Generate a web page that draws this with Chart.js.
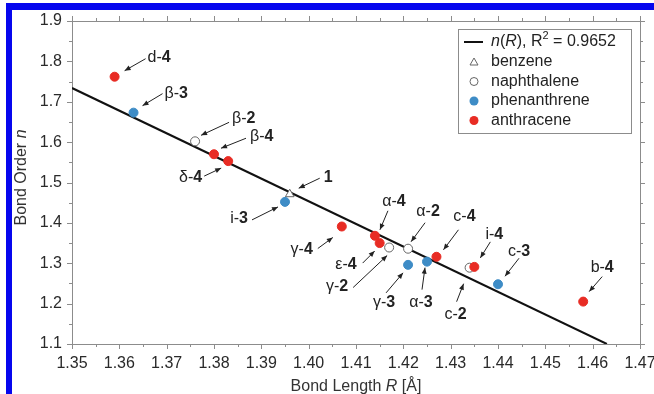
<!DOCTYPE html>
<html>
<head>
<meta charset="utf-8">
<script src="https://cdn.jsdelivr.net/npm/chart.js@4.4.0/dist/chart.umd.min.js"></script>
<style>
  html, body { margin: 0; padding: 0; background: #fff; }
</style>
</head>
<body>
<canvas id="myChart" width="654" height="394"></canvas>
<script>
// fitted line n(R), end points
const fitR = [1.35, 1.463];
const fitN = [1.734, 1.1];

// benzene
const benzeneR = [1.396];
const benzeneN = [1.471];
const benzeneLabels = ['1'];

// naphthalene
const naphR = [1.376, 1.417, 1.421, 1.434];
const naphN = [1.602, 1.339, 1.336, 1.289];
const naphLabels = ['β-2', 'γ-2', 'α-2', 'c-2'];

// phenanthrene
const phenR = [1.363, 1.395, 1.421, 1.425, 1.440];
const phenN = [1.673, 1.452, 1.296, 1.304, 1.248];
const phenLabels = ['β-3', 'i-3', 'γ-3', 'α-3', 'c-3'];

// anthracene
const anthR = [1.359, 1.380, 1.383, 1.407, 1.414, 1.415, 1.427, 1.435, 1.458];
const anthN = [1.762, 1.570, 1.553, 1.391, 1.368, 1.350, 1.316, 1.291, 1.205];
const anthLabels = ['d-4', 'β-4', 'δ-4', 'γ-4', 'α-4', 'ε-4', 'c-4', 'i-4', 'b-4'];

// axis ticks
const xTickVals = [1.35, 1.36, 1.37, 1.38, 1.39, 1.40, 1.41, 1.42, 1.43, 1.44, 1.45, 1.46, 1.47];
const xTickLabels = ['1.35', '1.36', '1.37', '1.38', '1.39', '1.40', '1.41', '1.42', '1.43', '1.44', '1.45', '1.46', '1.47'];
const yTickVals = [1.1, 1.2, 1.3, 1.4, 1.5, 1.6, 1.7, 1.8, 1.9];
const yTickLabels = ['1.1', '1.2', '1.3', '1.4', '1.5', '1.6', '1.7', '1.8', '1.9'];

const legendText = ['benzene', 'naphthalene', 'phenanthrene', 'anthracene'];
const r2Text = '0.9652';

// label placement next to each point: text dx, dy, align, arrow tail dx, dy, arrow tip dx, dy
const notePos = {
  'd-4': [33, -19, 'left', 31, -18, 10, -6],
  'β-3': [31, -19, 'left', 29, -19, 9, -7],
  'β-2': [37, -23, 'left', 34, -19, 6, -6],
  'β-4': [36, -18, 'left', 32, -16, 7, -6],
  'δ-4': [-26, 16, 'right', -24, 15, -7, 7],
  '1':   [34, -17, 'left', 30, -16, 9, -6],
  'i-3': [-37, 17, 'right', -33, 18, -7, 5],
  'γ-4': [-29, 23, 'right', -24, 22, -9, 11],
  'α-4': [19, -34, 'center', 13, -25, 5, -6],
  'α-2': [20, -37, 'center', 17, -26, 3, -7],
  'c-4': [28, -40, 'center', 22, -27, 7, -7],
  'ε-4': [-23, 22, 'right', -17, 20, -5, 8],
  'γ-2': [-41, 39, 'right', -36, 40, -2, 8],
  'γ-3': [-24, 38, 'center', -22, 28, -5, 8],
  'α-3': [-6, 41, 'center', -5, 28, -2, 6],
  'c-2': [-14, 47, 'center', -13, 34, -6, 16],
  'i-4': [20, -32, 'center', 16, -25, 6, -9],
  'c-3': [21, -33, 'center', 21, -26, 7, -8],
  'b-4': [19, -34, 'center', 19, -25, 6, -10]
};

const RED = 'rgb(232,44,36)';
const BLUE = 'rgb(62,140,198)';
const GREY = '#666';
const FRAME = '#8c8c8c';
const FONT = "'Liberation Sans', Arial, Helvetica, sans-serif";

function pts(xs, ys) {
  return xs.map(function(x, i) { return { x: x, y: ys[i] }; });
}

function arrow(ctx, x1, y1, x2, y2) {
  ctx.beginPath();
  ctx.moveTo(x1, y1);
  ctx.lineTo(x2, y2);
  ctx.stroke();
  const a = Math.atan2(y2 - y1, x2 - x1), L = 6, W = 2.5;
  ctx.beginPath();
  ctx.moveTo(x2, y2);
  ctx.lineTo(x2 - L * Math.cos(a) + W * Math.sin(a), y2 - L * Math.sin(a) - W * Math.cos(a));
  ctx.lineTo(x2 - L * Math.cos(a) - W * Math.sin(a), y2 - L * Math.sin(a) + W * Math.cos(a));
  ctx.closePath();
  ctx.fill();
}

// draws text pieces [text, font, yshift] one after another
function runs(ctx, parts, x, y, align) {
  let w = 0;
  parts.forEach(function(p) { ctx.font = p[1]; w += ctx.measureText(p[0]).width; });
  let cx = align === 'right' ? x - w : (align === 'center' ? x - w / 2 : x);
  ctx.textAlign = 'left';
  parts.forEach(function(p) {
    ctx.font = p[1];
    ctx.fillText(p[0], cx, y + (p[2] || 0));
    cx += ctx.measureText(p[0]).width;
  });
}

const decor = {
  id: 'decor',
  beforeDraw(chart) {
    const ctx = chart.ctx;
    ctx.save();
    ctx.fillStyle = '#fff';
    ctx.fillRect(0, 0, chart.width, chart.height);
    ctx.fillStyle = '#0606ee';
    ctx.fillRect(6, 3, 6, chart.height - 3);
    ctx.fillRect(6, 3, chart.width - 6, 7);
    ctx.restore();
  },
  beforeDatasetsDraw(chart) {
    const ctx = chart.ctx, a = chart.chartArea;
    const sx = chart.scales.x, sy = chart.scales.y;
    ctx.save();
    ctx.strokeStyle = FRAME;
    ctx.lineWidth = 1;
    ctx.strokeRect(Math.round(a.left) + 0.5, Math.round(a.top) + 0.5, Math.round(a.right - a.left), Math.round(a.bottom - a.top));
    ctx.beginPath();
    xTickVals.forEach(function(v, i) {
      const marks = [[v, 5]];
      if (i < xTickVals.length - 1) marks.push([(v + xTickVals[i + 1]) / 2, 3]);
      marks.forEach(function(m) {
        const px = Math.round(sx.getPixelForValue(m[0])) + 0.5;
        ctx.moveTo(px, a.bottom); ctx.lineTo(px, a.bottom + m[1]);
        ctx.moveTo(px, a.top); ctx.lineTo(px, a.top - m[1]);
      });
    });
    yTickVals.forEach(function(v, i) {
      const marks = [[v, 5]];
      if (i < yTickVals.length - 1) marks.push([(v + yTickVals[i + 1]) / 2, 3]);
      marks.forEach(function(m) {
        const py = Math.round(sy.getPixelForValue(m[0])) + 0.5;
        ctx.moveTo(a.left, py); ctx.lineTo(a.left - m[1], py);
        ctx.moveTo(a.right, py); ctx.lineTo(a.right + m[1], py);
      });
    });
    ctx.stroke();
    ctx.restore();
  },
  afterDraw(chart) {
    const ctx = chart.ctx, a = chart.chartArea;
    ctx.save();
    ctx.fillStyle = '#222';
    ctx.strokeStyle = '#222';
    ctx.lineWidth = 1;
    ctx.textBaseline = 'middle';

    // point labels with arrows
    [[anthLabels, 0], [phenLabels, 1], [naphLabels, 2], [benzeneLabels, 3]].forEach(function(g) {
      const meta = chart.getDatasetMeta(g[1]);
      g[0].forEach(function(lab, j) {
        const p = meta.data[j], o = notePos[lab];
        if (!p || !o) return;
        arrow(ctx, p.x + o[3], p.y + o[4], p.x + o[5], p.y + o[6]);
        const k = lab.indexOf('-');
        const parts = [[lab.slice(0, k + 1), '16px ' + FONT], [lab.slice(k + 1), 'bold 16px ' + FONT]];
        runs(ctx, parts, p.x + o[0], p.y + o[1], o[2]);
      });
    });

    // axis titles
    ctx.fillStyle = '#333';
    ctx.textBaseline = 'alphabetic';
    runs(ctx, [['Bond Length ', '16px ' + FONT], ['R', 'italic 16px ' + FONT], [' [Å]', '16px ' + FONT]],
      (a.left + a.right) / 2, 391, 'center');
    ctx.save();
    ctx.translate(26, (a.top + a.bottom) / 2 - 5);
    ctx.rotate(-Math.PI / 2);
    runs(ctx, [['Bond Order ', '16px ' + FONT], ['n', 'italic 16px ' + FONT]], 0, 0, 'center');
    ctx.restore();

    // legend box
    const lx = a.right - 182, ly = a.top + 8, lw = 173, lh = 104;
    ctx.strokeStyle = FRAME;
    ctx.strokeRect(Math.round(lx) + 0.5, Math.round(ly) + 0.5, lw, lh);
    const sx = lx + 16, tx = lx + 33;
    const rows = [ly + 13, ly + 33, ly + 52.5, ly + 72, ly + 91.5];
    ctx.strokeStyle = '#111';
    ctx.lineWidth = 2;
    ctx.beginPath(); ctx.moveTo(lx + 6, rows[0]); ctx.lineTo(lx + 25, rows[0]); ctx.stroke();
    ctx.lineWidth = 1;
    ctx.fillStyle = '#222';
    ctx.textBaseline = 'middle';
    runs(ctx, [['n', 'italic 16px ' + FONT], ['(', '16px ' + FONT], ['R', 'italic 16px ' + FONT],
      ['), R', '16px ' + FONT], ['2', '11px ' + FONT, -6], [' = ' + r2Text, '16px ' + FONT]], tx, rows[0], 'left');
    // triangle
    ctx.strokeStyle = GREY;
    ctx.beginPath();
    ctx.moveTo(sx, rows[1] - 4); ctx.lineTo(sx + 4, rows[1] + 3); ctx.lineTo(sx - 4, rows[1] + 3); ctx.closePath();
    ctx.stroke();
    ctx.beginPath(); ctx.arc(sx, rows[2], 4, 0, Math.PI * 2); ctx.stroke();
    ctx.fillStyle = BLUE;
    ctx.beginPath(); ctx.arc(sx, rows[3], 4.5, 0, Math.PI * 2); ctx.fill();
    ctx.fillStyle = RED;
    ctx.beginPath(); ctx.arc(sx, rows[4], 4.5, 0, Math.PI * 2); ctx.fill();
    ctx.fillStyle = '#222';
    legendText.forEach(function(t, i) {
      runs(ctx, [[t, '16px ' + FONT]], tx, rows[i + 1], 'left');
    });
    ctx.restore();
  }
};

const ctx = document.getElementById('myChart').getContext('2d');
new Chart(ctx, {
  type: 'scatter',
  data: {
    datasets: [
      {
        label: 'anthracene',
        data: pts(anthR, anthN),
        backgroundColor: RED,
        borderColor: RED,
        pointRadius: 4.5,
        borderWidth: 1,
        order: 0
      },
      {
        label: 'phenanthrene',
        data: pts(phenR, phenN),
        backgroundColor: BLUE,
        borderColor: BLUE,
        pointRadius: 4.5,
        borderWidth: 1,
        order: 1
      },
      {
        label: 'naphthalene',
        data: pts(naphR, naphN),
        backgroundColor: '#fff',
        borderColor: GREY,
        pointRadius: 4.5,
        borderWidth: 1,
        order: 2
      },
      {
        label: 'benzene',
        data: pts(benzeneR, benzeneN),
        pointStyle: 'triangle',
        backgroundColor: '#fff',
        borderColor: GREY,
        pointRadius: 5,
        borderWidth: 1,
        order: 3
      },
      {
        label: 'n(R)',
        type: 'line',
        data: pts(fitR, fitN),
        borderColor: '#111',
        borderWidth: 2,
        pointRadius: 0,
        fill: false,
        order: 4
      }
    ]
  },
  options: {
    responsive: false,
    animation: false,
    events: [],
    layout: { padding: { left: 0, top: 21, right: 14, bottom: 0 } },
    plugins: {
      legend: { display: false },
      tooltip: { enabled: false }
    },
    scales: {
      x: {
        type: 'linear',
        min: 1.35,
        max: 1.47,
        afterBuildTicks: function(s) { s.ticks = xTickVals.map(function(v) { return { value: v }; }); },
        ticks: {
          callback: function(v, i) { return xTickLabels[i]; },
          font: { size: 16, family: FONT },
          color: '#2a2a2a',
          padding: 10,
          maxRotation: 0,
          autoSkip: false
        },
        grid: { drawOnChartArea: false, drawTicks: false },
        border: { display: false },
        afterFit: function(s) { s.height = 50; s.paddingLeft = 0; s.paddingRight = 0; }
      },
      y: {
        type: 'linear',
        min: 1.1,
        max: 1.9,
        afterBuildTicks: function(s) { s.ticks = yTickVals.map(function(v) { return { value: v }; }); },
        ticks: {
          callback: function(v, i) { return yTickLabels[i]; },
          font: { size: 16, family: FONT },
          color: '#2a2a2a',
          padding: 10,
          autoSkip: false
        },
        grid: { drawOnChartArea: false, drawTicks: false },
        border: { display: false },
        afterFit: function(s) { s.width = 72; s.paddingTop = 0; s.paddingBottom = 0; }
      }
    }
  },
  plugins: [decor]
});
</script>
</body>
</html>
